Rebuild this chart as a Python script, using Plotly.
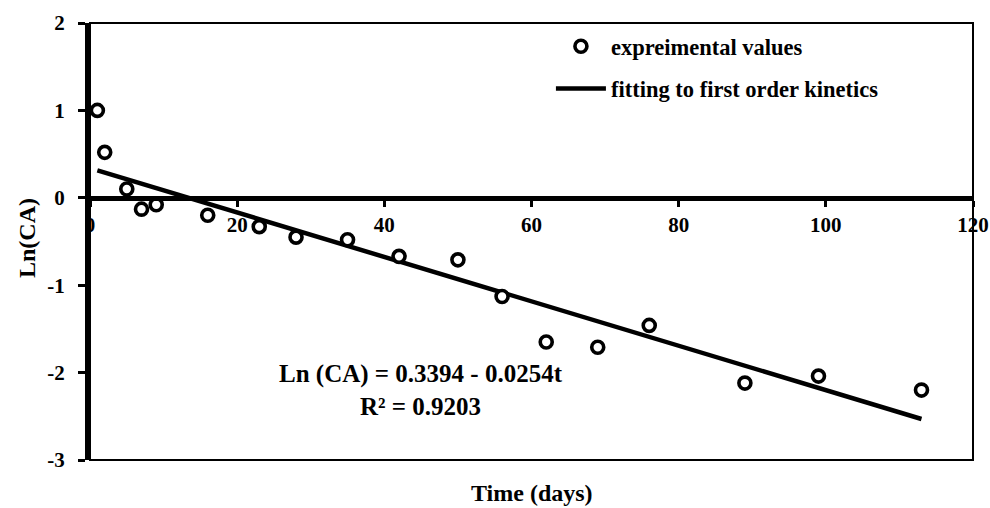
import plotly.graph_objects as go

# Data
time_days = [1, 2, 5, 7, 9, 16, 23, 28, 35, 42, 50, 56, 62, 69, 76, 89, 99, 113]
ln_ca = [1.00, 0.52, 0.10, -0.13, -0.08, -0.20, -0.33, -0.45, -0.48, -0.67, -0.71,
         -1.13, -1.65, -1.71, -1.46, -2.12, -2.04, -2.20]

fit_x = [1, 113]
fit_y = [0.314, -2.531]

x_ticks = [0, 20, 40, 60, 80, 100, 120]
y_ticks = [-3, -2, -1, 0, 1, 2]

FONT = "Liberation Serif"
tickfont = dict(family=FONT, size=21, color="black", weight="bold")

fig = go.Figure()

fig.add_trace(go.Scatter(
    x=fit_x, y=fit_y, mode="lines",
    name="fitting to first order kinetics",
    line=dict(color="black", width=4.5),
    legendrank=2, legendgroup="b",
))
fig.add_trace(go.Scatter(
    x=time_days, y=ln_ca, mode="markers",
    name="expreimental values",
    marker=dict(symbol="circle", size=12, color="white",
                line=dict(color="black", width=3.6)),
    legendrank=1, legendgroup="a",
))

fig.add_annotation(
    x=45, y=-2.195, xref="x", yref="y",
    text="Ln (CA) = 0.3394 - 0.0254t<br>R² = 0.9203",
    showarrow=False, align="center",
    font=dict(family=FONT, size=25, color="black", weight="bold"),
)
fig.add_annotation(
    x=0.5, y=-0.0755, xref="paper", yref="paper", yanchor="middle",
    text="Time (days)", showarrow=False,
    font=dict(family=FONT, size=24, color="black", weight="bold"),
)
fig.add_annotation(
    x=-0.0713, y=0.508, xref="paper", yref="paper",
    xanchor="center", yanchor="middle", textangle=-90,
    text="Ln(CA)", showarrow=False,
    font=dict(family=FONT, size=24, color="black", weight="bold"),
)

# frame
fig.add_shape(type="rect", xref="paper", yref="paper", x0=0, y0=0, x1=1, y1=1,
              line=dict(color="black", width=2), layer="above")

fig.update_layout(
    width=990, height=508,
    margin=dict(l=90, r=17, t=23, b=48, autoexpand=False),
    plot_bgcolor="white", paper_bgcolor="white",
    showlegend=True,
    legend=dict(
        x=0.522, y=0.995, xanchor="left", yanchor="top",
        bgcolor="rgba(0,0,0,0)", traceorder="grouped", tracegroupgap=10,
        itemwidth=50,
        font=dict(family=FONT, size=22.5, color="black", weight="bold"),
    ),
    xaxis=dict(
        range=[0, 120], tickvals=x_ticks, ticktext=[str(v) for v in x_ticks],
        anchor="free", position=0.6, automargin=False,
        showline=True, linecolor="black", linewidth=4.5,
        ticks="outside", ticklen=6, tickwidth=3, tickcolor="black",
        showgrid=False, zeroline=False, tickfont=tickfont,
    ),
    yaxis=dict(
        range=[-3, 2], tickvals=y_ticks, ticktext=[str(v) for v in y_ticks],
        automargin=False,
        showline=True, linecolor="black", linewidth=5,
        ticks="outside", ticklen=7, tickwidth=3, tickcolor="black",
        ticklabelstandoff=9,
        showgrid=False, zeroline=False, tickfont=tickfont,
    ),
)

fig.write_html(
    "out.html",
    config={"displayModeBar": False},
    post_script="document.body.style.margin='0';document.body.style.overflow='hidden';",
)
